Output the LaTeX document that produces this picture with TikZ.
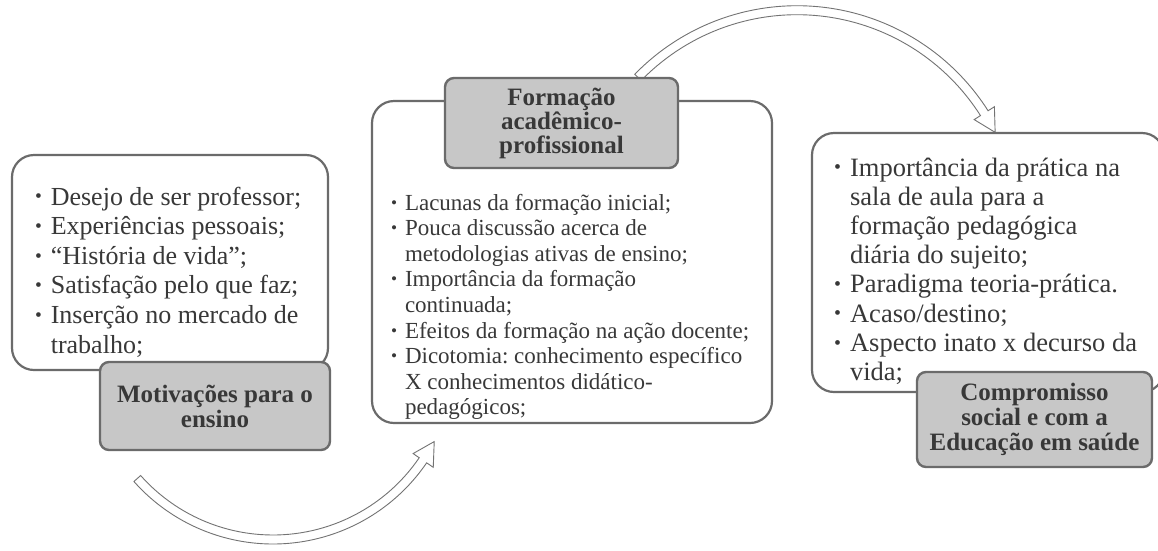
\documentclass[tikz,border=0pt]{standalone}
\usepackage{fontspec}
\setmainfont{Liberation Serif}
\usepackage{graphicx}
\frenchspacing
\newcommand{\linecolor}{black!58}
\newcommand{\tagcolor}{black!22}
\newcommand{\inkcolor}{black!78}
\newcommand{\bul}{\makebox[0.6em][l]{\raisebox{0.08em}{\scalebox{0.75}{\textbullet}}}}
\newcommand{\ind}{\hspace*{0.6em}}

\begin{document}
\begin{tikzpicture}[x=1pt, y=-1pt,
    boxframe/.style={draw=\linecolor, line width=2.2pt, rounded corners=22pt, fill=white, inner sep=0pt},
    labeltag/.style={draw=\linecolor, line width=2.4pt, rounded corners=9pt, fill=\tagcolor, text=\inkcolor, inner sep=0pt,
        font=\bfseries\fontsize{25}{25}\selectfont, align=center},
    itemtext/.style={anchor=base west, inner sep=0pt, text=\inkcolor},
    curvearrow/.style={draw=black!55, line width=0.9pt, fill=white}]
    \useasboundingbox (0,0) rectangle (1158,550);
    \clip (0,0) rectangle (1158,550);

    % arrows
    \draw[curvearrow, shift={(273,358)}] (138.4:186) arc[start angle=138.4, end angle=34.3, radius=186]
        -- (34.3:194) -- (27.4:181.6) -- (34.3:169.6) -- (34.3:177)
        arc[start angle=34.3, end angle=138.4, radius=177] -- cycle;
    \draw[curvearrow, shift={(797,232)}] (224.2:217.3) arc[start angle=224.2, end angle=327.6, radius=217.3]
        -- (327.6:209.8) -- (333.3:221.8) -- (327.6:233.8) -- (327.6:226.3)
        arc[start angle=327.6, end angle=224.2, radius=226.3] -- cycle;

    % boxes
    \node[boxframe, minimum width=316pt, minimum height=215pt] (motbox) at (170,262.5) {};
    \node[boxframe, minimum width=400pt, minimum height=322pt] (formbox) at (572,262) {};
    \node[boxframe, minimum width=352pt, minimum height=259pt] (compbox) at (988,262.5) {};

    % labels
    \node[labeltag, minimum width=230pt, minimum height=88pt] (motlabel) at (215,406) {Motivações para o\\ensino};
    \node[labeltag, minimum width=233pt, minimum height=90pt, font=\bfseries\fontsize{25}{24}\selectfont] (formlabel) at (561.5,123) {Formação\\acadêmico-\\profissional};
    \node[labeltag, minimum width=235pt, minimum height=95pt] (complabel) at (1034.5,419.5) {Compromisso\\social e com a\\Educação em saúde};

    % items
    \foreach \t [count=\i from 0] in {\bul Desejo de ser professor;, \bul Experiências pessoais;,
        \bul “História de vida”;, \bul Satisfação pelo que faz;, \bul Inserção no mercado de, \ind trabalho;}
        \node[itemtext, font=\fontsize{26}{26}\selectfont] (mot-\i) at (35,{205+29.6*\i}) {\t};
    \foreach \t [count=\i from 0] in {\bul Lacunas da formação inicial;, \bul Pouca discussão acerca de,
        \ind metodologias ativas de ensino;, \bul Importância da formação, \ind continuada;,
        \bul Efeitos da formação na ação docente;, \bul Dicotomia: conhecimento específico,
        \ind X conhecimentos didático-, \ind pedagógicos;}
        \node[itemtext, font=\fontsize{23}{23}\selectfont] (form-\i) at (391,{210+25.6*\i}) {\t};
    \foreach \t [count=\i from 0] in {\bul Importância da prática na, \ind sala de aula para a,
        \ind formação pedagógica, \ind diária do sujeito;, \bul Paradigma teoria-prática.,
        \bul Acaso/destino;, \bul Aspecto inato x decurso da, \ind vida;}
        \node[itemtext, font=\fontsize{26.5}{26.5}\selectfont] (comp-\i) at (834,{176+29.2*\i}) {\t};
\end{tikzpicture}
\end{document}
